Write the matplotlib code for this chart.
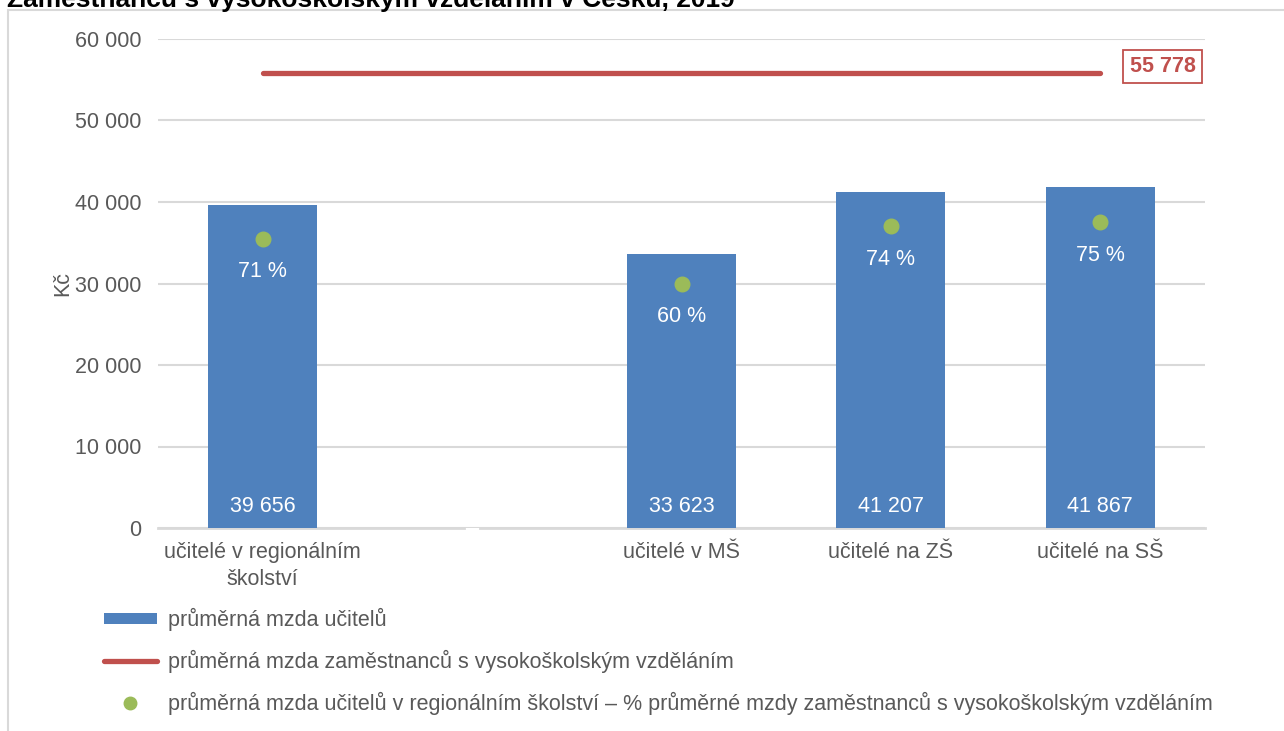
import matplotlib
matplotlib.use("Agg")
import matplotlib.pyplot as plt
from matplotlib.patches import Rectangle, Patch
from matplotlib.lines import Line2D

plt.rcParams['font.family'] = ['Liberation Sans', 'DejaVu Sans']

# ---- data ----
categories = ["učitelé v regionálním\nškolství", "", "učitelé v MŠ", "učitelé na ZŠ", "učitelé na SŠ"]
bar_positions = [0, 2, 3, 4]
teacher_wage = [39656, 33623, 41207, 41867]
teacher_wage_labels = ["39 656", "33 623", "41 207", "41 867"]
graduate_wage = 55778
graduate_wage_label = "55 778"
pct_of_graduate = [0.71, 0.60, 0.74, 0.75]
pct_labels = ["71 %", "60 %", "74 %", "75 %"]
yticks = [0, 10000, 20000, 30000, 40000, 50000, 60000]
ytick_labels = ["0", "10 000", "20 000", "30 000", "40 000", "50 000", "60 000"]
legend_labels = ["průměrná mzda učitelů",
                 "průměrná mzda zaměstnanců s vysokoškolským vzděláním",
                 "průměrná mzda učitelů v regionálním školství – % průměrné mzdy zaměstnanců s vysokoškolským vzděláním"]
title = "Zaměstnanců s vysokoškolským vzděláním v Česku, 2019"

BLUE = "#4f81bd"
RED = "#c0504d"
GREEN = "#9bbb59"
GRID = "#d9d9d9"
TXT = "#595959"
FS = 15.5

W, H = 1284, 731
fig = plt.figure(figsize=(W / 100, H / 100), dpi=100)

# outer frame (chart area border)
fig.patches.append(Rectangle((8 / W, -0.1), 1.2, 1 - 10 / H + 0.1, transform=fig.transFigure,
                             fill=False, edgecolor=GRID, linewidth=1.5))
# title (clipped at top, as in the reference)
fig.text(7 / W, 1 - 7 / H, title, fontsize=19, fontweight='bold', color='black',
         ha='left', va='baseline')

ax = fig.add_axes([158 / W, 1 - 528 / H, (1205 - 158) / W, (528 - 39) / H])
ax.set_xlim(-0.5, 4.5)
ax.set_ylim(0, 60000)
for s in ax.spines.values():
    s.set_visible(False)
ax.set_yticks(yticks)
ax.set_yticklabels(ytick_labels, fontsize=FS, color=TXT)
ax.tick_params(axis='y', length=0, pad=12)
ax.set_xticks(range(len(categories)))
ax.set_xticklabels(categories, fontsize=FS, color=TXT, linespacing=1.4)
ax.tick_params(axis='x', length=0, pad=10)
ax.yaxis.grid(True, color=GRID, linewidth=1.5)
ax.set_axisbelow(True)
ax.set_ylabel("Kč", fontsize=FS, color=TXT, labelpad=1)

# baseline with a gap in the empty slot between the two groups
ax.plot([-0.5, 1 - 0.037], [0, 0], color=GRID, linewidth=2, zorder=1, clip_on=False)
ax.plot([1 + 0.037, 4.5], [0, 0], color=GRID, linewidth=2, zorder=1, clip_on=False)

ax.bar(bar_positions, teacher_wage, width=0.52, color=BLUE, zorder=2)
for x, lab in zip(bar_positions, teacher_wage_labels):
    ax.annotate(lab, (x, 0), xytext=(0, 15.5), textcoords='offset points',
                ha='center', va='center', color='white', fontsize=FS, zorder=5)

# graduate wage line
ax.plot([bar_positions[0], bar_positions[-1]], [graduate_wage, graduate_wage], color=RED,
        linewidth=3.8, solid_capstyle='round', zorder=3)
ax.annotate(graduate_wage_label, (bar_positions[-1], graduate_wage), xytext=(45, 5),
            textcoords='offset points', ha='center', va='center', color=RED,
            fontsize=FS, fontweight='bold',
            bbox=dict(boxstyle='square,pad=0.3', facecolor='white', edgecolor=RED, linewidth=1.3))

# percentage dots on secondary (hidden) axis
ax2 = ax.twinx()
ax2.set_ylim(0, 1.2)
ax2.set_axis_off()
ax2.scatter(bar_positions, pct_of_graduate, s=110, color=GREEN, zorder=4)
for x, p, lab in zip(bar_positions, pct_of_graduate, pct_labels):
    ax2.annotate(lab, (x, p), xytext=(0, -23.5), textcoords='offset points',
                 ha='center', va='center', color='white', fontsize=FS)

handles = [Patch(facecolor=BLUE, edgecolor='none'),
           Line2D([], [], color=RED, linewidth=3.8, solid_capstyle='round'),
           Line2D([], [], color=GREEN, marker='o', linestyle='none', markersize=9)]
leg = fig.legend(handles, legend_labels, loc='upper left', bbox_to_anchor=(104 / W, 1 - 608 / H),
                 frameon=False, fontsize=FS, handlelength=2.45, handleheight=0.4,
                 handletextpad=0.52, labelspacing=0.87, labelcolor=TXT, borderaxespad=0,
                 borderpad=0)

fig.savefig("out.png", dpi=100)
